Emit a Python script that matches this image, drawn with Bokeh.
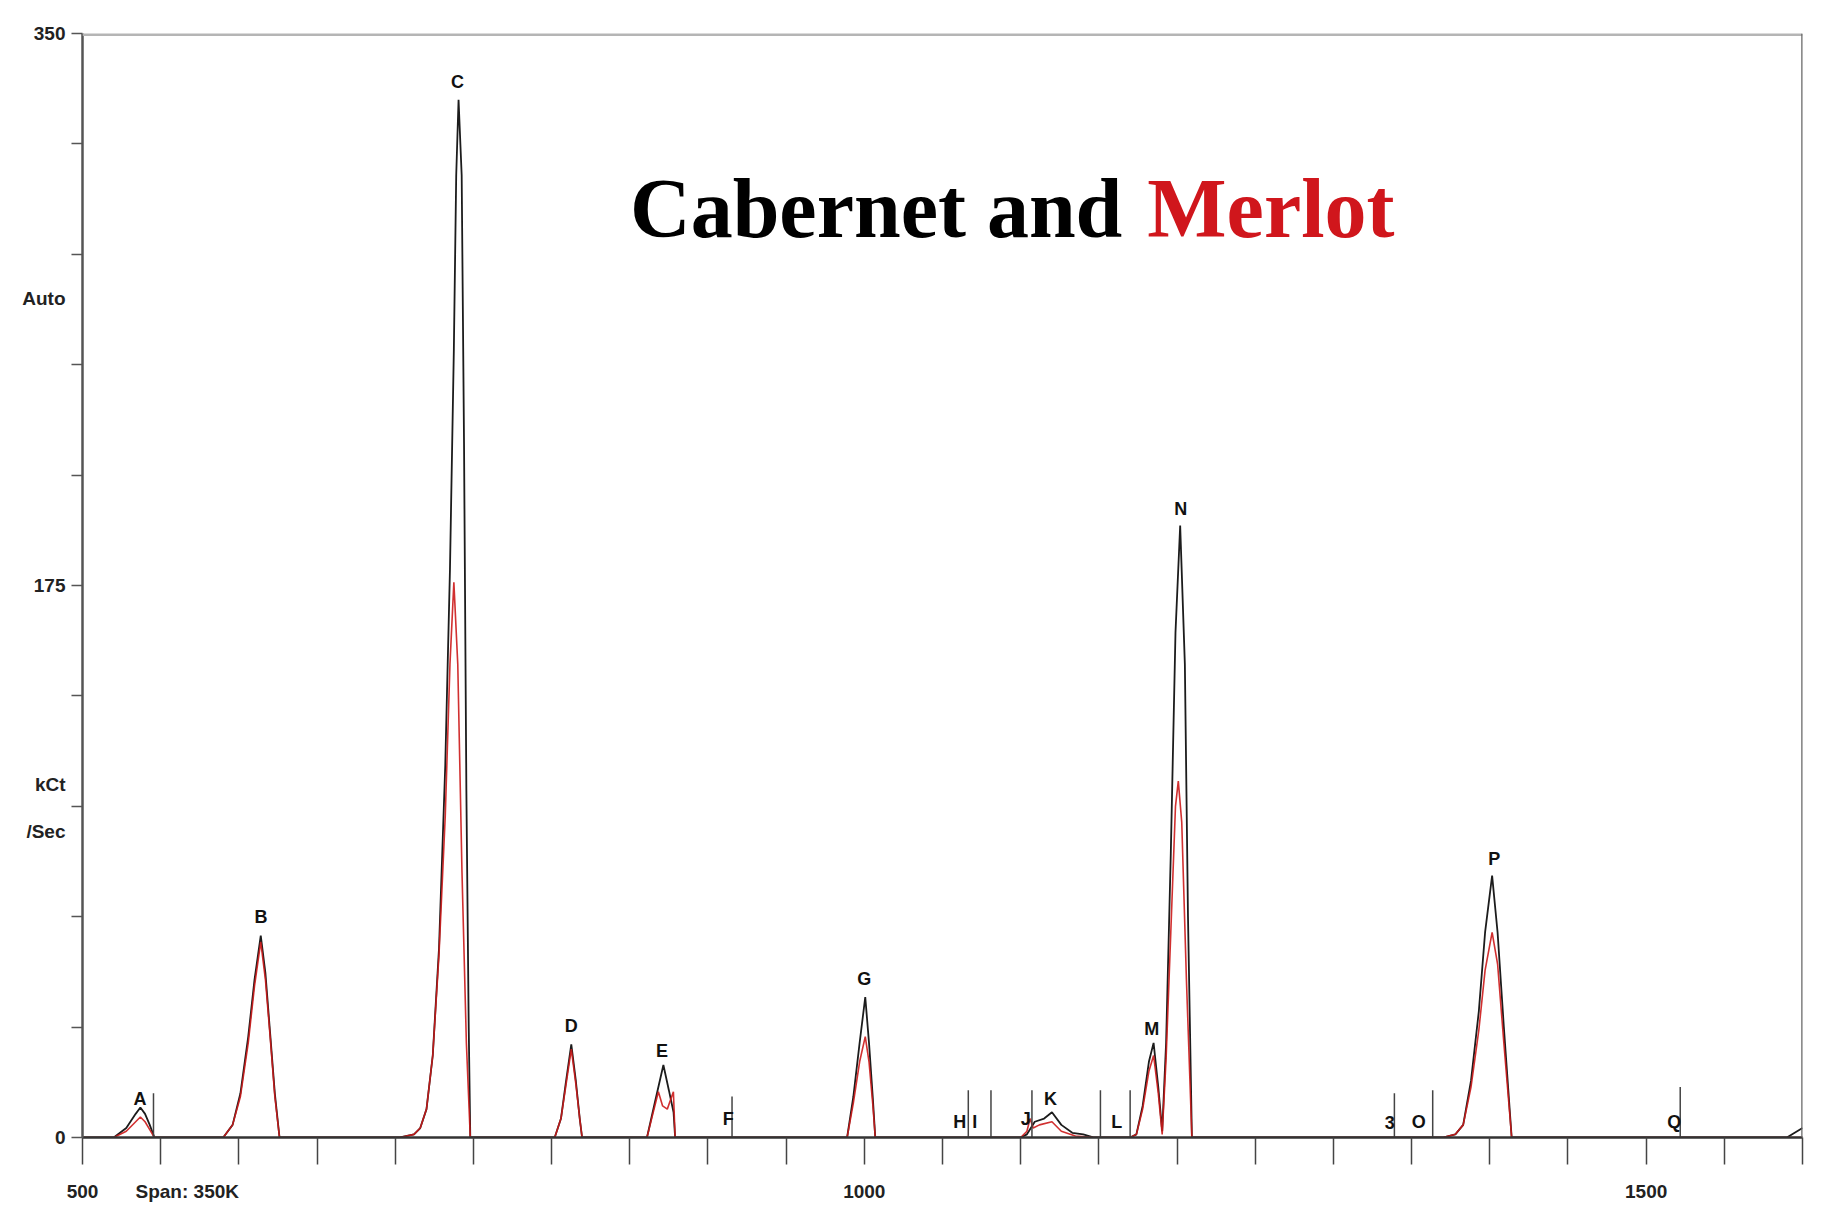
from bokeh.plotting import figure
from bokeh.models import Range1d, FixedTicker, Span, Label
from bokeh.core.properties import value
from bokeh.embed import file_html
from bokeh.resources import INLINE

# ---- data ----
cab_x = [500, 520, 528, 534, 537, 540, 543, 546,
         590, 596, 601, 606, 610, 614, 617, 620, 623, 626,
         703, 712, 716, 720, 724, 728, 732, 735, 737.5, 739, 740.5, 742.5, 744, 745.5, 747, 748,
         802, 806, 809, 812.6, 815.5, 818, 819.5,
         861, 866, 871.5, 875, 878, 879,
         989, 993, 997, 1000.6, 1003, 1005.5, 1007,
         1100, 1104, 1109, 1115, 1120, 1126, 1133, 1140, 1147,
         1170, 1174, 1178, 1182, 1185, 1188, 1190.5, 1193, 1196, 1199, 1202, 1205, 1207, 1209.5,
         1370, 1378, 1383, 1388, 1393, 1397, 1401.5, 1405, 1409, 1412, 1414,
         1590, 1595, 1600]
cab_y = [0, 0, 3, 7.5, 9.5, 7.5, 4, 0,
         0, 4, 14, 32, 50, 64, 52, 33, 14, 0,
         0, 1, 3, 9, 26, 60, 118, 180, 250, 305, 329, 305, 220, 110, 35, 0,
         0, 6, 17, 29.5, 18, 6, 0,
         0, 11, 23, 15, 8, 0,
         0, 13, 30, 44.5, 30, 12, 0,
         0, 1, 5, 6, 8, 4, 1.5, 1, 0,
         0, 1, 10, 24, 30, 16, 2, 30, 90, 160, 194, 150, 70, 0,
         0, 1, 4, 18, 40, 65, 83, 65, 35, 14, 0,
         0, 1.5, 3]

mer_x = [500, 520, 528, 534, 537, 540, 543, 546,
         590, 596, 601, 606, 610, 614, 617, 620, 623, 626,
         703, 712, 716, 720, 724, 728, 732, 735, 737.5, 740, 742.7, 745.5, 748,
         802, 806, 809, 812.6, 815.5, 818, 819.5,
         861, 864, 868.3, 871, 874, 877.9, 879,
         989, 993, 997, 1000.6, 1003, 1005.5, 1007,
         1100, 1104, 1106, 1108, 1112, 1120, 1126, 1135, 1147,
         1170, 1174, 1178, 1182, 1185, 1188, 1190.5, 1193, 1196, 1199, 1200.8, 1203, 1206, 1209.5,
         1370, 1378, 1383, 1388, 1393, 1397, 1401.5, 1405, 1409, 1412, 1414,
         1590, 1600]
mer_y = [0, 0, 2, 5, 6.5, 5, 2.5, 0,
         0, 4, 13, 30, 48, 62, 50, 32, 13, 0,
         0, 1, 3, 9, 26, 58, 102, 150, 176, 150, 84, 30, 0,
         0, 6, 16, 28, 17, 6, 0,
         0, 6, 14.5, 10, 9, 14.5, 0,
         0, 11, 24, 32, 24, 10, 0,
         0, 2, 6, 3, 4, 5, 2, 0.5, 0,
         0, 1, 9, 21, 26, 14, 1, 25, 65, 105, 113, 100, 50, 0,
         0, 1, 4, 16, 34, 53, 65, 55, 30, 12, 0,
         0, 0]

peak_labels = ["A", "B", "C", "D", "E", "F", "G", "H", "I", "J", "K", "L", "M", "N", "3", "O", "P", "Q"]
label_x = [536.8, 614.1, 739.8, 812.6, 870.6, 913, 1000, 1061, 1070.6, 1103.3, 1119, 1161.5,
           1183.8, 1202.4, 1336, 1354.6, 1402.9, 1518]
label_y = [12.2, 70, 334.6, 35.4, 27.3, 5.9, 50.1, 4.8, 4.8, 5.9, 12.2, 4.8,
           34.3, 199.3, 4.8, 4.8, 88.4, 4.8]

marker_x = [545.4, 915.4, 1066.5, 1081, 1107.2, 1151, 1170, 1339, 1363.5, 1521.8]
marker_h = [14, 13, 15, 15, 15, 15, 15, 14, 15, 16]

# axis ticks and texts of the instrument window
x_label_ticks = [500, 567, 1000, 1500]
x_label_text = {567: "Span: 350K"}
x_tick_marks = [500, 550, 600, 650, 700, 750, 800, 850, 900, 950, 1000, 1050, 1100, 1150, 1200,
                1250, 1300, 1350, 1400, 1450, 1500, 1550, 1600]
y_label_ticks = [0, 97, 112, 175, 266, 350]
y_label_text = {97: "/Sec", 112: "kCt", 266: "Auto"}
y_tick_marks = [0, 35, 70, 105, 140, 175, 210, 245, 280, 315, 350]

SANS = "Liberation Sans"

p = figure(frame_width=1720, frame_height=1104,
           x_range=Range1d(500, 1600), y_range=Range1d(0, 350),
           output_backend="svg", toolbar_location=None,
           min_border_left=82, min_border_right=13, min_border_top=33, min_border_bottom=67,
           background_fill_color="white", border_fill_color="white")
p.outline_line_color = None
p.grid.visible = False

# x axis
xa = p.xaxis[0]
xa.ticker = FixedTicker(ticks=x_label_ticks, minor_ticks=x_tick_marks)
xa.major_label_overrides = x_label_text
xa.major_tick_line_color = None
xa.major_tick_out = 27
xa.major_tick_in = 0
xa.minor_tick_out = 27
xa.minor_tick_in = 0
xa.axis_line_color = "#333333"
xa.axis_line_width = 2.5
xa.minor_tick_line_color = "#444444"
xa.minor_tick_line_width = 1.5
xa.major_label_standoff = 16
xa.major_label_text_font = SANS
xa.major_label_text_font_size = "19px"
xa.major_label_text_font_style = "bold"
xa.major_label_text_color = "#222222"

# y axis
ya = p.yaxis[0]
ya.ticker = FixedTicker(ticks=y_label_ticks, minor_ticks=y_tick_marks)
ya.major_label_overrides = y_label_text
ya.major_tick_line_color = None
ya.major_tick_out = 12
ya.major_tick_in = 0
ya.minor_tick_out = 11
ya.minor_tick_in = 0
ya.axis_line_color = "#555555"
ya.axis_line_width = 2.5
ya.minor_tick_line_color = "#555555"
ya.minor_tick_line_width = 1.5
ya.major_label_standoff = 5
ya.major_label_text_font = SANS
ya.major_label_text_font_size = "19px"
ya.major_label_text_font_style = "bold"
ya.major_label_text_color = "#222222"

# frame lines
p.add_layout(Span(location=350, dimension="width", line_color="#b5b5b5", line_width=5))
p.add_layout(Span(location=1600, dimension="height", line_color="#666666", line_width=2.5))

# traces
p.line(cab_x, cab_y, line_color="#1c1c1c", line_width=1.8)
p.line(mer_x, mer_y, line_color="#cc1a1a", line_width=1.6, line_alpha=0.9)

# peak integration markers
p.segment(x0=marker_x, y0=0, x1=marker_x, y1=marker_h, line_color="#444444", line_width=1.5)

# peak labels
p.text(x=label_x, y=label_y, text=peak_labels, text_align="center", text_baseline="middle",
       text_font=value(SANS), text_font_size="18px", text_font_style="bold", text_color="#111111")

# title in two colours
p.add_layout(Label(x=1165, y=294.5, text="Cabernet and", text_align="right",
                   text_baseline="alphabetic",
                   text_font="Liberation Serif", text_font_size="84px", text_font_style="bold",
                   text_color="#000000"))
p.add_layout(Label(x=1181, y=294.5, text="Merlot", text_align="left",
                   text_baseline="alphabetic",
                   text_font="Liberation Serif", text_font_size="84px", text_font_style="bold",
                   text_color="#d0161c"))

open("out.html", "w").write(file_html(p, INLINE))
